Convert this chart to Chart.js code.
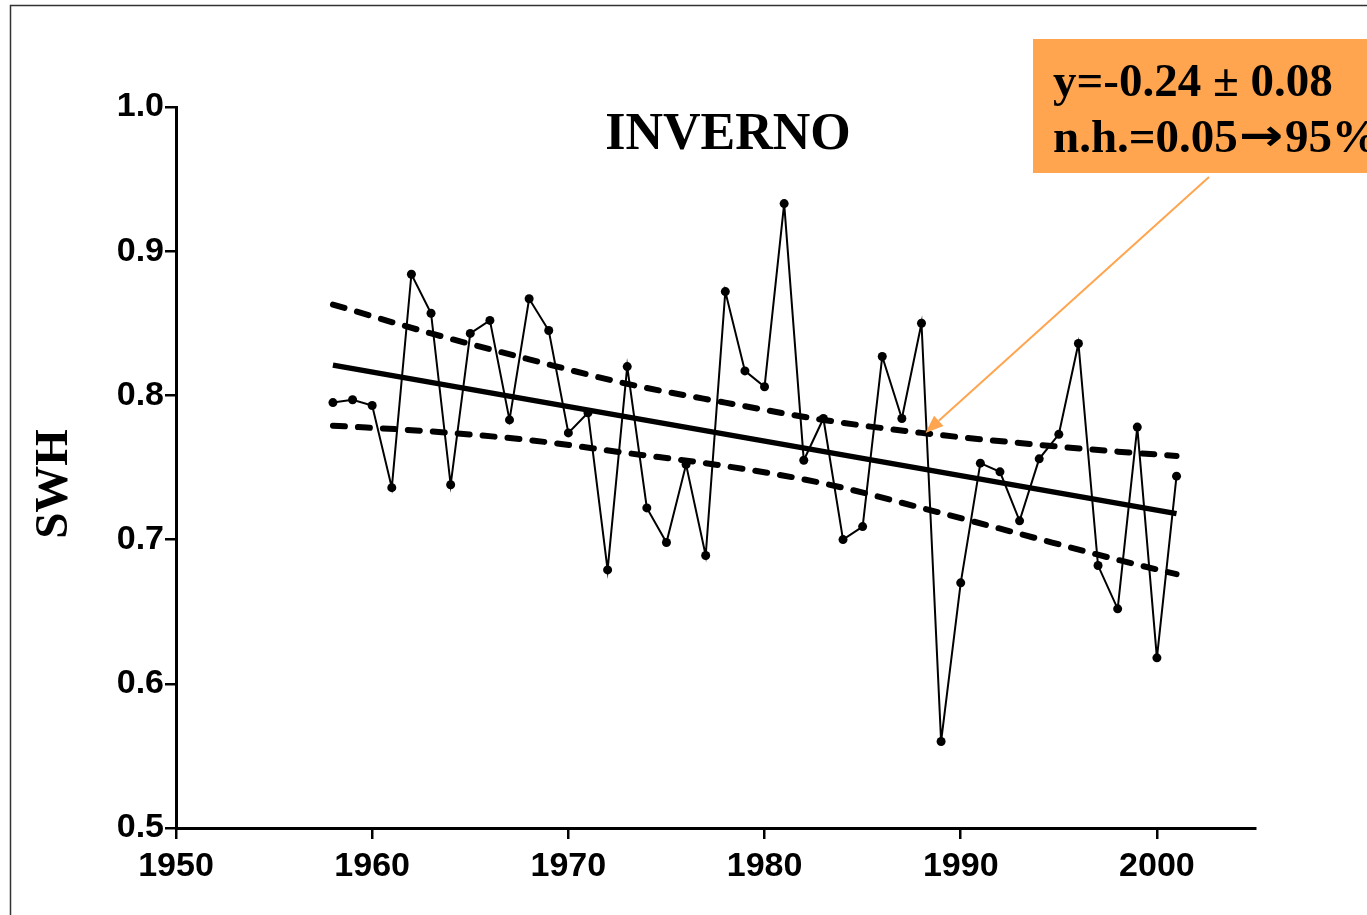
<!DOCTYPE html>
<html>
<head>
<meta charset="utf-8">
<script src="https://cdn.jsdelivr.net/npm/chart.js@4.4.1/dist/chart.umd.min.js"></script>
<style>
  html, body { margin: 0; padding: 0; background: #fff; }
  #wrap { position: relative; width: 1367px; height: 915px; overflow: hidden; }
  canvas { display: block; }
</style>
</head>
<body>
<div id="wrap"><canvas id="c" width="1367" height="915"></canvas></div>
<script>
// ---- data ----
const years = [1958,1959,1960,1961,1962,1963,1964,1965,1966,1967,1968,1969,1970,1971,1972,1973,1974,1975,1976,1977,1978,1979,1980,1981,1982,1983,1984,1985,1986,1987,1988,1989,1990,1991,1992,1993,1994,1995,1996,1997,1998,1999,2000,2001];
const swh   = [0.795,0.797,0.793,0.736,0.884,0.857,0.738,0.843,0.852,0.783,0.867,0.845,0.774,0.788,0.679,0.820,0.722,0.698,0.752,0.689,0.872,0.817,0.806,0.933,0.755,0.784,0.700,0.709,0.827,0.784,0.850,0.560,0.670,0.753,0.747,0.713,0.756,0.773,0.836,0.682,0.652,0.778,0.618,0.744];
const trendYears = [1958, 2001];
const trendValues = [0.821, 0.718];
const bandYears = [1958,1963,1968,1973,1978,1983,1988,1993,1998,2001];
const upperBand = [0.863,0.843,0.825,0.808,0.795,0.783,0.774,0.767,0.761,0.758];
const lowerBand = [0.779,0.775,0.769,0.760,0.751,0.739,0.722,0.704,0.686,0.676];
const xTickLabels = [1950,1960,1970,1980,1990,2000];
const yTickLabels = [0.5,0.6,0.7,0.8,0.9,1.0];
const titleText = 'INVERNO';
const yAxisTitle = 'SWH';
const noteLine1 = 'y=-0.24 ± 0.08';
const noteLine2a = 'n.h.=0.05';
const noteArrow = '\u2192';
const noteLine2b = '95%';
const arrowTarget = [1988.2, 0.774];

const zip = (xs, ys) => xs.map((x, i) => ({x: x, y: ys[i]}));
const serif = '"Liberation Serif", "Times New Roman", serif';

const decor = {
  id: 'decor',
  beforeDraw(chart) {
    const ctx = chart.ctx;
    ctx.save();
    ctx.fillStyle = '#fff';
    ctx.fillRect(0, 0, chart.width, chart.height);
    ctx.strokeStyle = '#333';
    ctx.lineWidth = 1.5;
    ctx.beginPath();
    ctx.moveTo(10.5, 920);
    ctx.lineTo(10.5, 5.5);
    ctx.lineTo(1380, 5.5);
    ctx.stroke();
    ctx.restore();
  },
  afterDraw(chart) {
    const ctx = chart.ctx;
    const xs = chart.scales.x, ys = chart.scales.y;
    ctx.save();
    ctx.fillStyle = '#000';
    ctx.font = 'bold 52px ' + serif;
    ctx.textAlign = 'center';
    ctx.textBaseline = 'alphabetic';
    ctx.fillText(titleText, 728, 149);
    ctx.save();
    ctx.translate(67, 484);
    ctx.rotate(-Math.PI / 2);
    ctx.font = 'bold 47px ' + serif;
    ctx.textAlign = 'center';
    ctx.fillText(yAxisTitle, 0, 0);
    ctx.restore();
    // annotation box
    ctx.fillStyle = '#FFA54F';
    ctx.fillRect(1033, 39, 400, 134);
    ctx.fillStyle = '#000';
    ctx.font = 'bold 47px ' + serif;
    ctx.textAlign = 'left';
    ctx.fillText(noteLine1, 1053, 96);
    let x = 1053;
    ctx.fillText(noteLine2a, x, 152);
    x += ctx.measureText(noteLine2a).width + 1;
    ctx.save();
    ctx.translate(x, 150);
    ctx.scale(1.2, 1);
    ctx.font = 'bold 44px "DejaVu Sans", sans-serif';
    ctx.fillText(noteArrow, 0, 0);
    const aw = ctx.measureText(noteArrow).width * 1.2;
    ctx.restore();
    x += aw + 2;
    ctx.font = 'bold 47px ' + serif;
    ctx.fillText(noteLine2b, x, 152);
    // arrow
    const tx = xs.getPixelForValue(arrowTarget[0]);
    const ty = ys.getPixelForValue(arrowTarget[1]);
    const sx = 1209, sy = 177;
    const ang = Math.atan2(ty - sy, tx - sx);
    const hl = 18, hw = 7;
    const bx = tx - hl * Math.cos(ang), by = ty - hl * Math.sin(ang);
    ctx.strokeStyle = '#FFA54F';
    ctx.lineWidth = 2;
    ctx.beginPath();
    ctx.moveTo(sx, sy);
    ctx.lineTo(bx, by);
    ctx.stroke();
    ctx.fillStyle = '#FFA54F';
    ctx.beginPath();
    ctx.moveTo(tx, ty);
    ctx.lineTo(bx + hw * Math.sin(ang), by - hw * Math.cos(ang));
    ctx.lineTo(bx - hw * Math.sin(ang), by + hw * Math.cos(ang));
    ctx.closePath();
    ctx.fill();
    ctx.restore();
  }
};

const tickFont = { family: '"Liberation Sans", Arial, sans-serif', size: 34, weight: 'bold' };

new Chart(document.getElementById('c'), {
  type: 'line',
  data: {
    datasets: [
      {
        label: 'SWH',
        data: zip(years, swh),
        borderColor: '#000',
        backgroundColor: '#000',
        borderWidth: 2,
        pointRadius: 4.5,
        pointBackgroundColor: '#000',
        pointBorderWidth: 0,
        tension: 0,
        order: 1
      },
      {
        label: 'trend',
        data: zip(trendYears, trendValues),
        borderColor: '#000',
        borderWidth: 5.5,
        pointRadius: 0,
        borderCapStyle: 'butt',
        order: 2
      },
      {
        label: 'upper',
        data: zip(bandYears, upperBand),
        borderColor: '#000',
        borderWidth: 6,
        borderDash: [12, 13],
        borderCapStyle: 'round',
        pointRadius: 0,
        cubicInterpolationMode: 'monotone',
        order: 3
      },
      {
        label: 'lower',
        data: zip(bandYears, lowerBand),
        borderColor: '#000',
        borderWidth: 6,
        borderDash: [12, 13],
        borderCapStyle: 'round',
        pointRadius: 0,
        cubicInterpolationMode: 'monotone',
        order: 3
      }
    ]
  },
  options: {
    responsive: false,
    animation: false,
    events: [],
    layout: { padding: { left: 0, top: 107, right: 112, bottom: 27 } },
    plugins: { legend: { display: false }, tooltip: { enabled: false }, title: { display: false } },
    scales: {
      x: {
        type: 'linear',
        min: 1950,
        max: 2005,
        afterBuildTicks(scale) { scale.ticks = xTickLabels.map(v => ({ value: v })); },
        afterFit(scale) { scale.height = 60; },
        ticks: { font: tickFont, color: '#000', padding: 7, maxRotation: 0, autoSkip: false, callback: v => String(v) },
        grid: { display: true, drawOnChartArea: false, drawTicks: true, tickLength: 11, color: '#000', lineWidth: 2.5 },
        border: { display: true, color: '#000', width: 3 }
      },
      y: {
        type: 'linear',
        min: 0.5,
        max: 1.0,
        afterBuildTicks(scale) { scale.ticks = yTickLabels.map(v => ({ value: v })); },
        afterFit(scale) { scale.width = 176; },
        ticks: { font: tickFont, color: '#000', padding: 1, callback: v => Number(v).toFixed(1) },
        grid: { display: true, drawOnChartArea: false, drawTicks: true, tickLength: 11, color: '#000', lineWidth: 2.5 },
        border: { display: true, color: '#000', width: 3 }
      }
    }
  },
  plugins: [decor]
});
</script>
</body>
</html>
